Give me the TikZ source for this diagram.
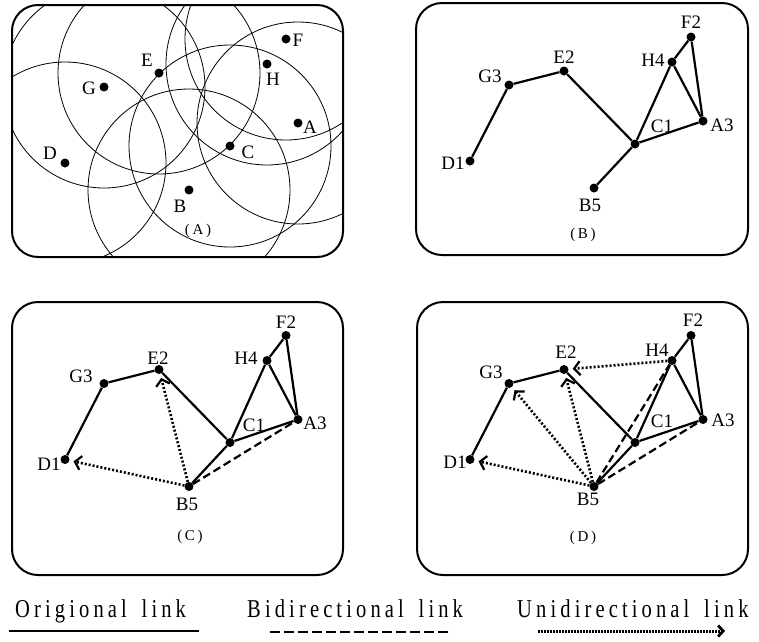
\documentclass[tikz,border=0pt]{standalone}
\usepackage{fontspec}
\setmainfont{Liberation Serif}
\newfontfamily\legendfont[FakeStretch=0.8,LetterSpace=16,WordSpace=1.6]{Liberation Serif}
\newfontfamily\tagfont[LetterSpace=18]{Liberation Serif}
\usetikzlibrary{arrows.meta}

\tikzset{
  netframe/.style={draw, line width=2pt, rounded corners=26pt},
  netdot/.style={circle, fill, inner sep=0pt, minimum size=9pt},
  netlbl/.style={font=\fontsize{19}{19}\selectfont, inner sep=0pt},
  paneltag/.style={font=\tagfont\fontsize{15}{15}\selectfont, inner sep=0pt},
  legendtext/.style={font=\legendfont\fontsize{25.7}{26}\selectfont, inner sep=0pt},
  rangering/.style={line width=0.8pt},
  origlink/.style={line width=2.2pt},
  bilink/.style={line width=2.2pt, dash pattern=on 8pt off 4pt},
  barbtip/.style={-{Straight Barb[length=6pt,width=14pt,line width=2.2pt]}},
  unilink/.style={line width=2.6pt, dash pattern=on 2pt off 2pt, barbtip, shorten >=4pt},
}

\begin{document}
\begin{tikzpicture}[x=1pt,y=-1pt]
\useasboundingbox (0,0) rectangle (759,641);

% ---------- (A): nodes with their radio ranges ----------
\begin{scope}[shift={(0,1)}]
  \foreach \k/\x/\y/\lx/\ly in {F/286/38/12/1, H/267/63/6/15, E/159/72/-12/-13,
      G/104/86/-15/1, A/298/122/12/4, C/230/145/18/6, D/65/162/-15/-10, B/189/189/-9/16}
  {
    \node[netdot] (\k a) at (\x,\y) {};
    \node[netlbl] (\k al) at (\x+\lx,\y+\ly) {\k};
  }
\end{scope}
\begin{scope}
  \clip[rounded corners=26pt] (12,5) rectangle (343,257);
  \foreach \k in {F,H,E,G,A,C,D,B}
    \draw[rangering] (\k a) circle[radius=101];
\end{scope}
\draw[netframe] (12,5) rectangle (343,257);
\node[paneltag] (tagA) at (198,231) {(A)};

% ---------- (B): original links ----------
\begin{scope}[shift={(405,-1)}]
  \foreach \k/\t/\x/\y/\lx/\ly in {F/F2/286/38/0/-15, H/H4/267/63/-19/-2, E/E2/159/72/0/-14,
      G/G3/104/86/-19/-9, D/D1/65/162/-17/2, C/C1/230/145/27/-18, A/A3/298/122/19/4, B/B5/189/189/-4/17}
  {
    \node[netdot] (\k b) at (\x,\y) {};
    \node[netlbl] (\k bl) at (\x+\lx,\y+\ly) {\t};
  }
\end{scope}
\draw[origlink] (Db) -- (Gb) -- (Eb) -- (Cb) -- (Bb);
\draw[origlink] (Cb) -- (Hb) -- (Fb) -- (Ab) -- (Cb);
\draw[origlink] (Hb) -- (Ab);
\draw[netframe] (416,3) rectangle (748,255);
\node[paneltag] (tagB) at (583,235) {(B)};

% ---------- (C): links added for B5 ----------
\begin{scope}[shift={(0,297.5)}]
  \foreach \k/\t/\x/\y/\lx/\ly in {F/F2/286/38/0/-13, H/H4/267/63/-21/-2, E/E2/159/72/-1/-11,
      G/G3/104/86/-23/-7, D/D1/65/162/-16/5, C/C1/230/145/24/-17, A/A3/298/122/17/4, B/B5/189/189/-2/18}
  {
    \node[netdot] (\k c) at (\x,\y) {};
    \node[netlbl] (\k cl) at (\x+\lx,\y+\ly) {\t};
  }
\end{scope}
\draw[origlink] (Dc) -- (Gc) -- (Ec) -- (Cc) -- (Bc);
\draw[origlink] (Cc) -- (Hc) -- (Fc) -- (Ac) -- (Cc);
\draw[origlink] (Hc) -- (Ac);
\draw[bilink] (Bc) -- (Ac);
\draw[unilink] (Bc) -- (Dc);
\draw[unilink] (Bc) -- (Ec);
\draw[netframe] (12,302) rectangle (343,575);
\node[paneltag] (tagC) at (190,537) {(C)};

% ---------- (D): more links added for B5 ----------
\begin{scope}[shift={(405,297.5)}]
  \foreach \k/\t/\x/\y/\lx/\ly in {F/F2/286/38/2/-15, H/H4/267/63/-15/-10, E/E2/159/72/2/-17,
      G/G3/104/86/-18/-11, D/D1/65/162/-15/3, C/C1/230/145/27/-21, A/A3/298/122/20/1, B/B5/189/189/-6/13}
  {
    \node[netdot] (\k d) at (\x,\y) {};
    \node[netlbl] (\k dl) at (\x+\lx,\y+\ly) {\t};
  }
\end{scope}
\draw[origlink] (Dd) -- (Gd) -- (Ed) -- (Cd) -- (Bd);
\draw[origlink] (Cd) -- (Hd) -- (Fd) -- (Ad) -- (Cd);
\draw[origlink] (Hd) -- (Ad);
\draw[bilink] (Bd) -- (Ad);
\draw[bilink] (Bd) -- (Hd);
\draw[unilink] (Bd) -- (Dd);
\draw[unilink] (Bd) -- (Gd);
\draw[unilink] (Bd) -- (Ed);
\draw[unilink] (Hd) -- (Ed);
\draw[netframe] (417,302) rectangle (748,575);
\node[paneltag] (tagD) at (583,538) {(D)};

% ---------- legend ----------
\node[legendtext, anchor=base west] (legO) at (15,617) {Origional link};
\node[legendtext, anchor=base west] (legB) at (247,617) {Bidirectional link};
\node[legendtext, anchor=base west] (legU) at (517,617) {Unidirectional link};
\coordinate (o1) at (9,631);   \coordinate (o2) at (199,631);
\coordinate (b1) at (270,632); \coordinate (b2) at (452,632);
\coordinate (u1) at (538,631); \coordinate (u2) at (725,631);
\draw[line width=2.5pt] (o1) -- (o2);
\draw[line width=2.5pt, dash pattern=on 10pt off 4pt] (b1) -- (b2);
\draw[line width=3pt, dash pattern=on 1.6pt off 1.4pt,
      -{Straight Barb[length=5pt,width=11pt,line width=2.8pt]}] (u1) -- (u2);
\end{tikzpicture}
\end{document}
